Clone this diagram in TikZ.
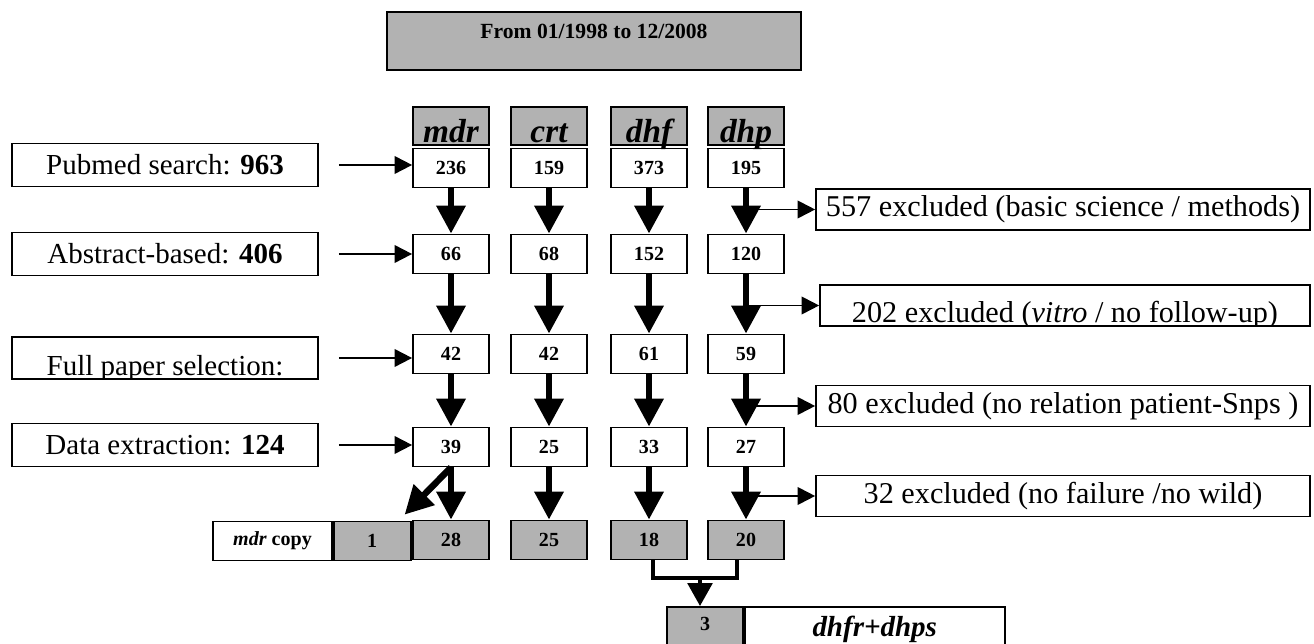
\documentclass[tikz,border=0pt]{standalone}
\usepackage{fontspec}
\setmainfont{Liberation Serif}
\usepackage{xcolor}
\usepackage{tikz}
\usetikzlibrary{arrows.meta}
\usetikzlibrary{positioning}
\colorlet{shade}{black!30}
\tikzset{
  % node options
  cell/.style={rectangle,draw,line width=1pt,inner sep=0pt},
  stage/.style={cell,minimum width=6.12cm,minimum height=0.86cm,font=\fontsize{16.5}{18}\selectfont},
  tally/.style={cell,minimum width=1.52cm,minimum height=0.78cm,font=\fontsize{11.4}{13}\selectfont\bfseries},
  kept/.style={tally,fill=shade},
  gene/.style={cell,fill=shade,minimum width=1.52cm,minimum height=0.76cm,text height=0.68cm,text depth=0pt,font=\fontsize{19}{21}\selectfont\bfseries\itshape},
  excluded/.style={cell,minimum width=9.88cm,minimum height=0.82cm,font=\fontsize{17.2}{19}\selectfont},
  % path options
  flow/.style={-{Triangle[length=16pt,width=16pt]},line width=3.7pt},
  feed/.style={-{Triangle[length=10pt,width=10pt]},line width=1.1pt},
  entry/.style={feed,shorten <=0.4cm},
  junction/.style={line width=2pt},
}

\begin{document}
\begin{tikzpicture}[x=0.02cm,y=-0.02cm]
  \useasboundingbox (0,0) rectangle (1314,644);
  \node[cell,fill=shade,minimum width=8.28cm,text height=0.54cm,text depth=0.62cm,font=\fontsize{12.3}{14}\selectfont\bfseries] (period) at (594,41) {From 01/1998 to 12/2008};

  \node[gene] (mdr) at (451,126) {mdr};
  \node[gene] (crt) at (549,126) {crt};
  \node[gene] (dhf) at (649,126) {dhf};
  \node[gene] (dhp) at (746,126) {dhp};

  \node[tally] (mdr1) at (451,168) {236};
  \node[tally] (crt1) at (549,168) {159};
  \node[tally] (dhf1) at (649,168) {373};
  \node[tally] (dhp1) at (746,168) {195};
  \node[tally] (mdr2) at (451,254) {66};
  \node[tally] (crt2) at (549,254) {68};
  \node[tally] (dhf2) at (649,254) {152};
  \node[tally] (dhp2) at (746,254) {120};
  \node[tally] (mdr3) at (451,354) {42};
  \node[tally] (crt3) at (549,354) {42};
  \node[tally] (dhf3) at (649,354) {61};
  \node[tally] (dhp3) at (746,354) {59};
  \node[tally] (mdr4) at (451,447) {39};
  \node[tally] (crt4) at (549,447) {25};
  \node[tally] (dhf4) at (649,447) {33};
  \node[tally] (dhp4) at (746,447) {27};
  \node[kept] (mdr5) at (451,540) {28};
  \node[kept] (crt5) at (549,540) {25};
  \node[kept] (dhf5) at (649,540) {18};
  \node[kept] (dhp5) at (746,540) {20};

  \node[stage] (pubmed) at (165,165) {Pubmed search: \textbf{963}};
  \node[stage] (abstract) at (165,254) {Abstract-based: \textbf{406}};
  \node[stage,minimum height=0.84cm] (fullpaper) at (165,358) {};
  \begin{scope}
    \clip (fullpaper.south west) rectangle (fullpaper.north east);
    \node[anchor=base,font=\fontsize{16.5}{18}\selectfont] (fullpapertext) at ([yshift=0.08cm]fullpaper.south) {Full paper selection:};
  \end{scope}
  \node[stage] (extraction) at (165,445) {Data extraction: \textbf{124}};

  \node[excluded] (basic) at (1063,209.5) {557 excluded (basic science / methods)};
  \node[excluded,minimum width=9.8cm] (vitro) at (1065,305.5) {};
  \begin{scope}
    \clip (vitro.south west) rectangle (vitro.north east);
    \node[anchor=base,font=\fontsize{17.2}{19}\selectfont] (vitrotext) at ([yshift=0.08cm]vitro.south) {202 excluded (\textit{vitro} / no follow-up)};
  \end{scope}
  \node[excluded] (relation) at (1063,406) {80 excluded (no relation patient-Snps )};
  \node[excluded] (failure) at (1063,496) {32 excluded (no failure /no wild)};

  \node[tally,minimum width=2.38cm] (copylabel) at (272.5,541) {\textit{mdr} copy};
  \node[kept,minimum width=1.54cm,right=0pt of copylabel] (copyn) {1};
  \node[kept,anchor=north,text height=0.48cm,text depth=0.52cm] (both) at (705,606) {3};
  \node[cell,right=0pt of both,minimum width=5.2cm,text height=0.6cm,text depth=0.4cm,font=\fontsize{16.5}{18}\selectfont\bfseries\itshape] (pair) {dhfr+dhps};

  \draw[entry] (pubmed.east) -- (pubmed.east -| mdr1.west);
  \draw[entry] (abstract.east) -- (abstract.east -| mdr2.west);
  \draw[entry] (fullpaper.east) -- (fullpaper.east -| mdr3.west);
  \draw[entry] (extraction.east) -- (extraction.east -| mdr4.west);

  \draw[flow] (mdr1) -- (mdr2);
  \draw[flow] (crt1) -- (crt2);
  \draw[flow] (dhf1) -- (dhf2);
  \draw[flow] (dhp1) -- (dhp2);
  \draw[flow] (mdr2) -- (mdr3);
  \draw[flow] (crt2) -- (crt3);
  \draw[flow] (dhf2) -- (dhf3);
  \draw[flow] (dhp2) -- (dhp3);
  \draw[flow] (mdr3) -- (mdr4);
  \draw[flow] (crt3) -- (crt4);
  \draw[flow] (dhf3) -- (dhf4);
  \draw[flow] (dhp3) -- (dhp4);
  \draw[flow] (mdr4) -- (mdr5);
  \draw[flow] (crt4) -- (crt5);
  \draw[flow] (dhf4) -- (dhf5);
  \draw[flow] (dhp4) -- (dhp5);
  \draw[flow] (mdr4.south) -- ([shift={(-7,-6)}]copyn.north east);

  \draw[feed] (basic.west -| dhp1.south) -- (basic.west);
  \draw[feed] (vitro.west -| dhp2.south) -- (vitro.west);
  \draw[feed] (relation.west -| dhp3.south) -- (relation.west);
  \draw[feed] (failure.west -| dhp4.south) -- (failure.west);

  \coordinate (merge) at (700,578);
  \draw[junction] ([xshift=0.08cm]dhf5.south) |- (merge) -| ([xshift=-0.18cm]dhp5.south);
  \draw[flow,line width=2pt,-{Triangle[length=13pt,width=14pt]}] (merge) -- (merge |- both.north);
\end{tikzpicture}
\end{document}
